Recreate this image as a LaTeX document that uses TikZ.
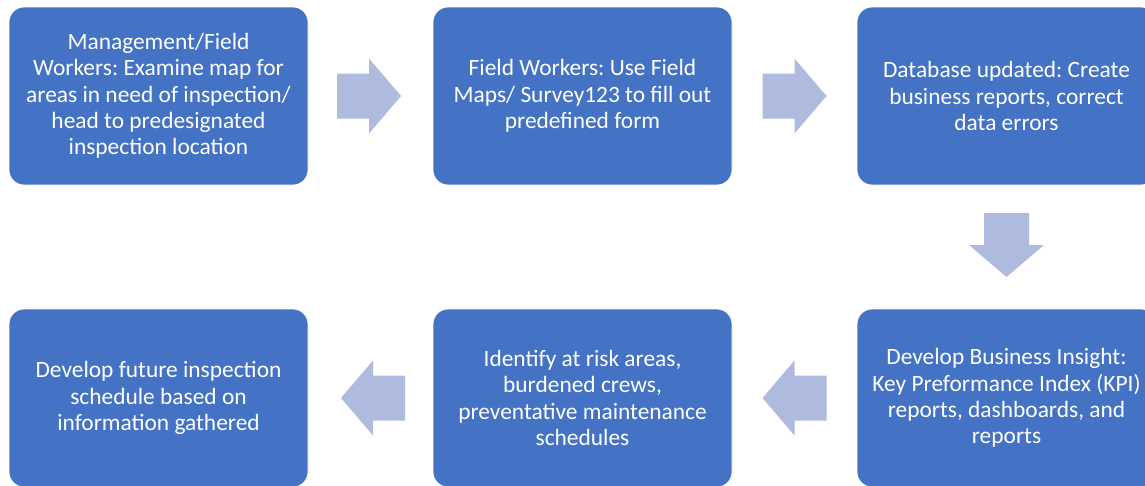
\documentclass[tikz,border=0pt]{standalone}
\usepackage{fontspec}
\setmainfont{Carlito}
\frenchspacing
\usetikzlibrary{calc}
\definecolor{boxblue}{HTML}{4472C4}
\definecolor{arrowblue}{HTML}{AFBBDE}
\begin{document}
\begin{tikzpicture}[x=1pt,y=-1pt,
  stepbox/.style={fill=boxblue, draw=white, line width=0.8pt, rounded corners=15pt,
    minimum width=299pt, minimum height=178pt, inner sep=0pt,
    text=white, align=center,
    font=\fontsize{23.4pt}{26.3pt}\selectfont},
  blockarrow/.pic={\fill[arrowblue] (-32,-22.5) -- (0,-22.5) -- (0,-37.5) -- (32,0)
    -- (0,37.5) -- (0,22.5) -- (-32,22.5) -- cycle;}]
\useasboundingbox (0,0) rectangle (1145,485);
\clip (0,0) rectangle (1145,485);
% top row
\node[stepbox] (b1) at (158.5,96) {Management/Field\\Workers: Examine map for\\areas in need of inspection/\\head to predesignated\\inspection location};
\node[stepbox] (b2) at (582.5,96) {Field Workers: Use Field\\Maps/ Survey123 to fill out\\predefined form};
\node[stepbox] (b3) at (1006.5,96) {Database updated: Create\\business reports, correct\\data errors};
% bottom row
\node[stepbox] (b4) at (1006.5,398) {Develop Business Insight:\\Key Preformance Index (KPI)\\reports, dashboards, and\\reports};
\node[stepbox] (b5) at (582.5,398) {Identify at risk areas,\\burdened crews,\\preventative maintenance\\schedules};
\node[stepbox] (b6) at (158.5,398) {Develop future inspection\\schedule based on\\information gathered};
% block arrows between the steps
\pic at ($(b1.east)!0.5!(b2.west)+(-1.5,0)$) {blockarrow};
\pic at ($(b2.east)!0.5!(b3.west)$) {blockarrow};
\pic[rotate=-90] at ($(b3.south)!0.5!(b4.north)+(0,-2)$) {blockarrow};
\pic[rotate=180] at ($(b4.west)!0.5!(b5.east)$) {blockarrow};
\pic[rotate=180] at ($(b5.west)!0.5!(b6.east)+(2.5,0)$) {blockarrow};
\end{tikzpicture}
\end{document}
